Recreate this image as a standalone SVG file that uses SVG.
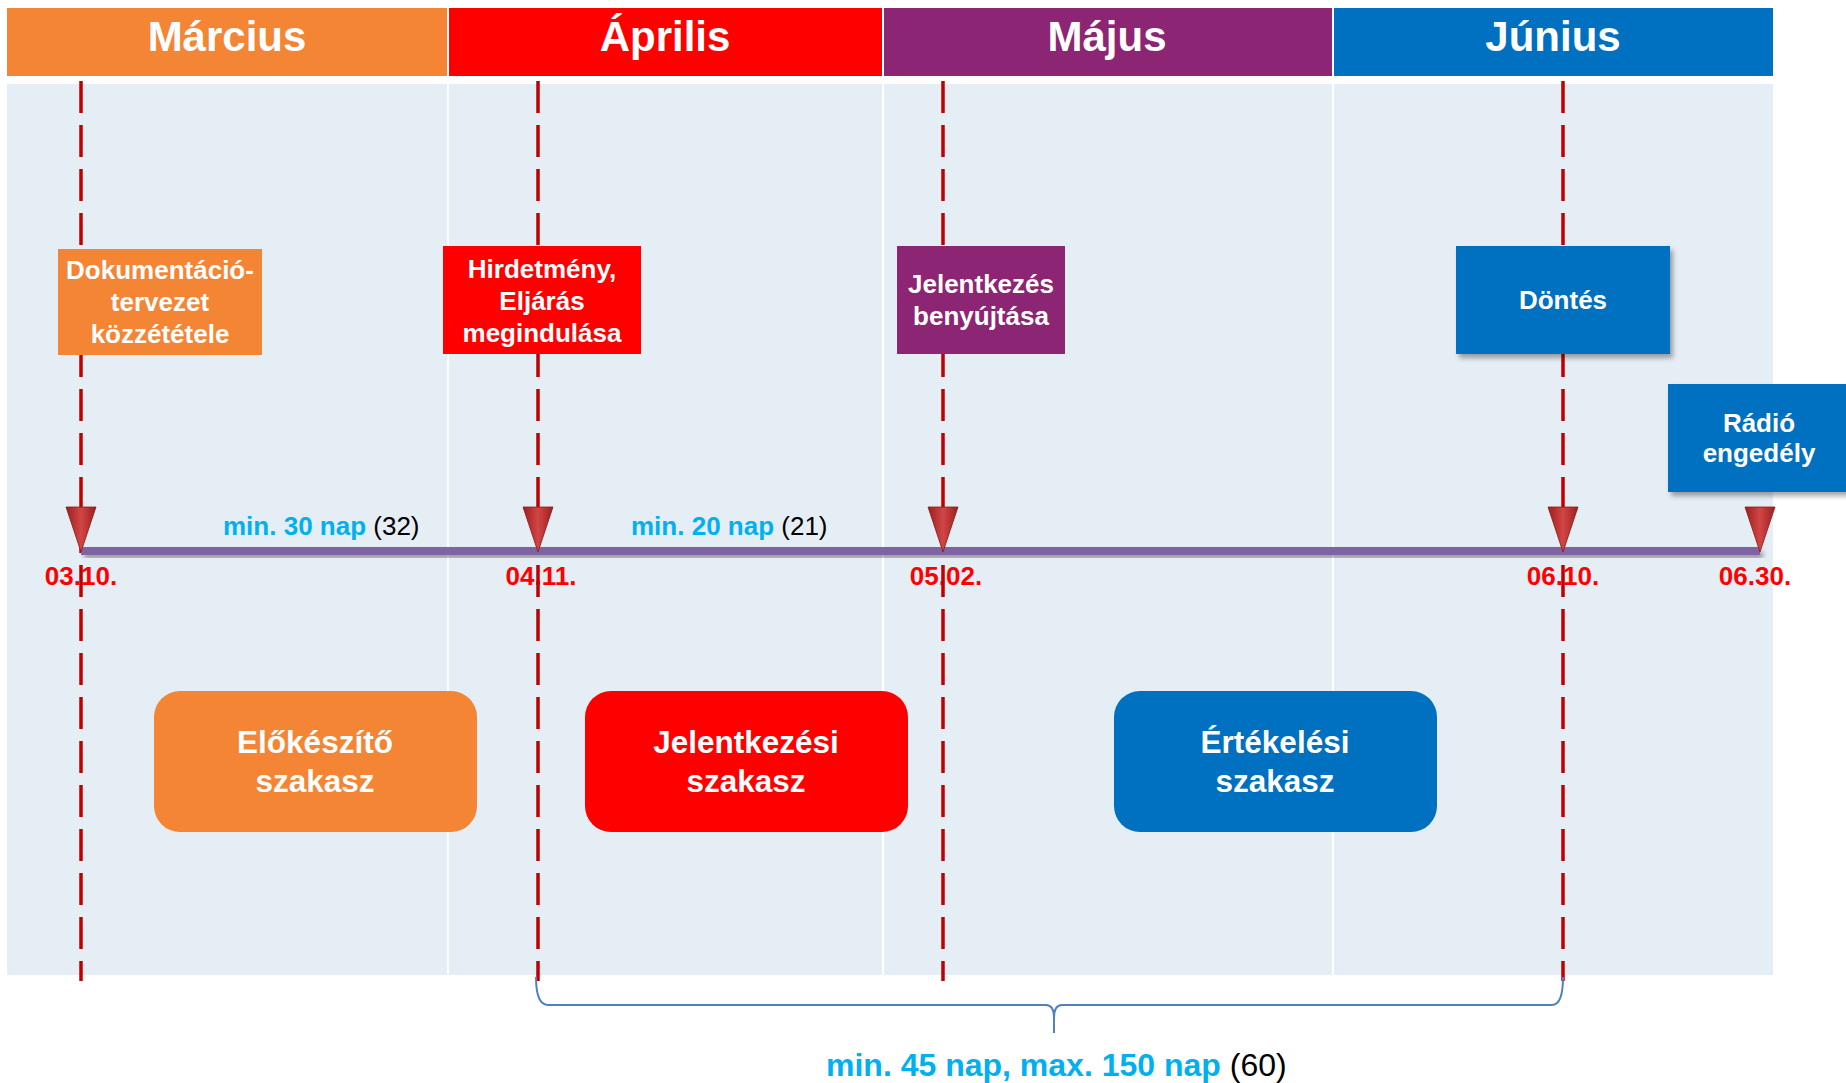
<svg xmlns="http://www.w3.org/2000/svg" width="1846" height="1083" viewBox="0 0 1846 1083">
<style>
text{font-family:"Liberation Sans",Arial,sans-serif;}
.hdr{font-size:42px;font-weight:bold;fill:#fff;text-anchor:middle;}
.body{fill:#E6EEF5;}
.ev{font-size:26px;font-weight:bold;fill:#fff;text-anchor:middle;}
.ph{font-size:31.5px;font-weight:bold;fill:#fff;text-anchor:middle;}
.date{font-size:26px;font-weight:bold;fill:#FF0000;text-anchor:middle;}
.dash{stroke:#C00000;stroke-width:3.5;stroke-dasharray:32 12;fill:none;}
.dur{font-size:26px;}
.b{font-weight:bold;fill:#00B0F0;}
.k{fill:#000;}
</style>
<defs>
<filter id="sh" x="-10%" y="-10%" width="130%" height="140%">
<feDropShadow dx="3" dy="4" stdDeviation="2.5" flood-color="#000" flood-opacity="0.35"/>
</filter>
<linearGradient id="tri" x1="0" y1="0" x2="1" y2="0">
<stop offset="0" stop-color="#9C1F1F"/>
<stop offset="0.5" stop-color="#D24545"/>
<stop offset="1" stop-color="#9C1F1F"/>
</linearGradient>
<path id="arrow" d="M-15,0 L15,0 L0,45 Z" fill="url(#tri)" stroke="#8E1A1A" stroke-width="0.8"/>
</defs>

<g id="background">
<rect class="body" x="7" y="84" width="440" height="891"/>
<rect class="body" x="449" y="84" width="433" height="891"/>
<rect class="body" x="884" y="84" width="448" height="891"/>
<rect class="body" x="1334" y="84" width="439" height="891"/>
</g>

<g id="header-marcius"><rect x="7" y="8" width="440" height="68" fill="#F38535"/><text class="hdr" x="227" y="51">Március</text></g>
<g id="header-aprilis"><rect x="449" y="8" width="433" height="68" fill="#FF0000"/><text class="hdr" x="665" y="51">Április</text></g>
<g id="header-majus"><rect x="884" y="8" width="448" height="68" fill="#8C2574"/><text class="hdr" x="1107" y="51">Május</text></g>
<g id="header-junius"><rect x="1334" y="8" width="439" height="68" fill="#0070C0"/><text class="hdr" x="1553" y="51">Június</text></g>

<g id="dates">
<text class="date" x="81" y="585">03.10.</text>
<text class="date" x="541" y="585">04.11.</text>
<text class="date" x="946" y="585">05.02.</text>
<text class="date" x="1563" y="585">06.10.</text>
<text class="date" x="1755" y="585">06.30.</text>
</g>

<g id="connectors">
<line class="dash" x1="81" y1="81" x2="81" y2="981"/>
<line class="dash" x1="538" y1="81" x2="538" y2="981"/>
<line class="dash" x1="943" y1="81" x2="943" y2="981"/>
<line class="dash" x1="1563" y1="81" x2="1563" y2="981"/>
<rect x="81" y="547" width="1679" height="8" fill="#8064A2" filter="url(#sh)"/>
<use href="#arrow" x="81" y="507"/>
<use href="#arrow" x="538" y="507"/>
<use href="#arrow" x="943" y="507"/>
<use href="#arrow" x="1563" y="507"/>
<use href="#arrow" x="1760" y="507"/>
<path d="M536,977 Q536,1005 548,1005 L1046,1005 Q1054,1005 1054,1018 L1054,1033 M1054,1018 Q1054,1005 1062,1005 L1552,1005 Q1563,1005 1563,977" fill="none" stroke="#4F81BD" stroke-width="2"/>
</g>

<g id="event-dokumentacio">
<rect x="58" y="249" width="204" height="106" fill="#F38535"/>
<text class="ev" x="160" y="279">Dokumentáció-</text>
<text class="ev" x="160" y="311">tervezet</text>
<text class="ev" x="160" y="343">közzététele</text>
</g>
<g id="event-hirdetmeny">
<rect x="443" y="246" width="198" height="108" fill="#FF0000"/>
<text class="ev" x="542" y="278">Hirdetmény,</text>
<text class="ev" x="542" y="310">Eljárás</text>
<text class="ev" x="542" y="342">megindulása</text>
</g>
<g id="event-jelentkezes">
<rect x="897" y="246" width="168" height="108" fill="#8C2574"/>
<text class="ev" x="981" y="293">Jelentkezés</text>
<text class="ev" x="981" y="325">benyújtása</text>
</g>
<g id="event-dontes">
<rect x="1456" y="246" width="214" height="108" fill="#0070C0" filter="url(#sh)"/>
<text class="ev" x="1563" y="309">Döntés</text>
</g>
<g id="event-radio">
<rect x="1668" y="384" width="190" height="108" fill="#0070C0" filter="url(#sh)"/>
<text class="ev" x="1759" y="432">Rádió</text>
<text class="ev" x="1759" y="462">engedély</text>
</g>

<g id="duration-1"><text class="dur" x="223" y="535"><tspan class="b">min. 30 nap</tspan><tspan class="k"> (32)</tspan></text></g>
<g id="duration-2"><text class="dur" x="631" y="535"><tspan class="b">min. 20 nap</tspan><tspan class="k"> (21)</tspan></text></g>

<g id="phase-elokeszito">
<rect x="154" y="691" width="323" height="141" rx="26" fill="#F38535"/>
<text class="ph" x="315" y="753">Előkészítő</text>
<text class="ph" x="315" y="792">szakasz</text>
</g>
<g id="phase-jelentkezesi">
<rect x="585" y="691" width="323" height="141" rx="26" fill="#FF0000"/>
<text class="ph" x="746" y="753">Jelentkezési</text>
<text class="ph" x="746" y="792">szakasz</text>
</g>
<g id="phase-ertekelesi">
<rect x="1114" y="691" width="323" height="141" rx="26" fill="#0070C0"/>
<text class="ph" x="1275" y="753">Értékelési</text>
<text class="ph" x="1275" y="792">szakasz</text>
</g>

<g id="total-duration"><text x="826" y="1076" style="font-size:32px"><tspan class="b">min. 45 nap, max. 150 nap</tspan><tspan class="k"> (60)</tspan></text></g>
</svg>
